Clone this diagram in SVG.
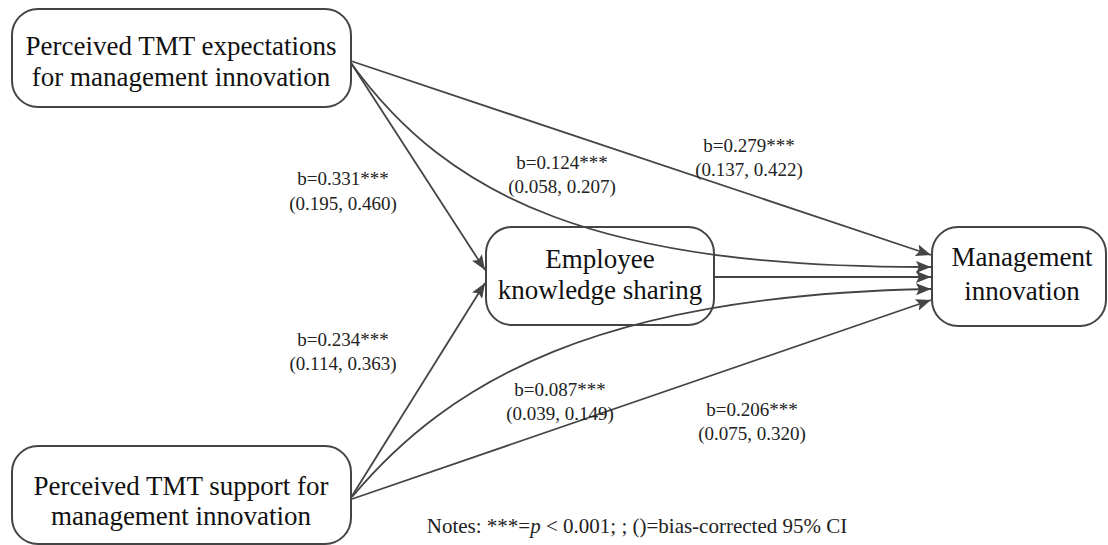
<svg xmlns="http://www.w3.org/2000/svg" width="1108" height="545" viewBox="0 0 1108 545">
<style>
.box{fill:#fff;stroke:#444;stroke-width:2}
.nt{font-family:"Liberation Serif","Times New Roman",serif;font-size:27px;fill:#111;text-anchor:middle}
.lb{font-family:"Liberation Serif","Times New Roman",serif;font-size:19px;fill:#222;text-anchor:middle}
.ln{fill:none;stroke:#444;stroke-width:1.8}
</style>
<defs>
<marker id="ah" markerUnits="userSpaceOnUse" markerWidth="16" markerHeight="12" refX="15" refY="6" orient="auto">
<path d="M0,0 L15,6 L0,12 L3,6 z" fill="#444"/>
</marker>
</defs>
<rect width="1108" height="545" fill="#fff"/>
<g id="n1">
<rect class="box" x="12" y="9" width="339" height="98" rx="26"/>
<text class="nt" x="181" y="55">Perceived TMT expectations</text>
<text class="nt" x="181" y="86">for management innovation</text>
</g>
<g id="n2">
<rect class="box" x="486" y="227" width="228" height="98" rx="26"/>
<text class="nt" x="600" y="268">Employee</text>
<text class="nt" x="600" y="299">knowledge sharing</text>
</g>
<g id="n3">
<rect class="box" x="932" y="227" width="174" height="99" rx="26"/>
<text class="nt" x="1022" y="266">Management</text>
<text class="nt" x="1022" y="300">innovation</text>
</g>
<g id="n4">
<rect class="box" x="12" y="446" width="339" height="98" rx="26"/>
<text class="nt" x="181" y="495">Perceived TMT support for</text>
<text class="nt" x="181" y="525">management innovation</text>
</g>
<g id="connectors">
<path class="ln" d="M351,63 L485,270" marker-end="url(#ah)"/>
<path class="ln" d="M352,496 L485,283" marker-end="url(#ah)"/>
<path class="ln" d="M351,61 L931,255" marker-end="url(#ah)"/>
<path class="ln" d="M351,63 C450,200 600,268 931,267" marker-end="url(#ah)"/>
<path class="ln" d="M714,277 L931,277" marker-end="url(#ah)"/>
<path class="ln" d="M352,497 C450,380 600,295 931,289" marker-end="url(#ah)"/>
<path class="ln" d="M352,499 L931,300" marker-end="url(#ah)"/>
</g>
<g id="labels">
<text class="lb" x="343" y="185">b=0.331***</text>
<text class="lb" x="343" y="210">(0.195, 0.460)</text>
<text class="lb" x="343" y="346">b=0.234***</text>
<text class="lb" x="343" y="370">(0.114, 0.363)</text>
<text class="lb" x="562" y="169">b=0.124***</text>
<text class="lb" x="562" y="193">(0.058, 0.207)</text>
<text class="lb" x="749" y="152">b=0.279***</text>
<text class="lb" x="749" y="176">(0.137, 0.422)</text>
<text class="lb" x="560" y="396">b=0.087***</text>
<text class="lb" x="560" y="420">(0.039, 0.149)</text>
<text class="lb" x="752" y="416">b=0.206***</text>
<text class="lb" x="752" y="440">(0.075, 0.320)</text>
<text class="lb" x="637" y="533" style="font-size:21px">Notes: ***=<tspan font-style="italic">p</tspan> &lt; 0.001; ; ()=bias-corrected 95% CI</text>
</g>
</svg>
